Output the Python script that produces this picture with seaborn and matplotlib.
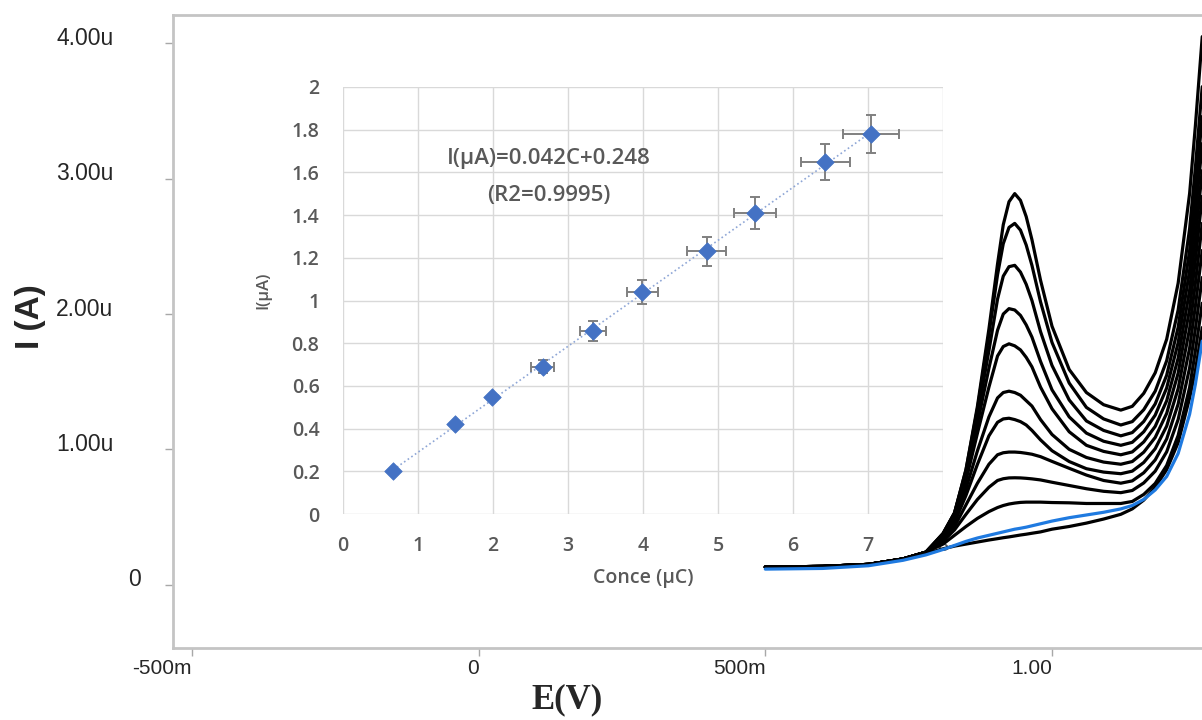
import numpy as np
import pandas as pd
import matplotlib
matplotlib.use("Agg")
import matplotlib.pyplot as plt
import seaborn as sns

sns.set_theme(style="white")
plt.rcParams["font.family"] = ["Liberation Sans", "DejaVu Sans"]

# ---------------- voltammograms: potential (V) and current (uA) ----------------
E_V = [0.50, 0.60, 0.68, 0.74, 0.78, 0.81, 0.83, 0.85, 0.87, 0.89, 0.905, 0.915, 0.925,
       0.935, 0.945, 0.955, 0.965, 0.98, 1.00, 1.03, 1.06, 1.09, 1.12, 1.14, 1.16, 1.18,
       1.20, 1.22, 1.24, 1.25, 1.262]

blank_black = [0.13, 0.13, 0.15, 0.19, 0.23, 0.265, 0.285, 0.30, 0.315, 0.33, 0.34, 0.347, 0.353,
               0.36, 0.367, 0.373, 0.38, 0.39, 0.41, 0.43, 0.455, 0.485, 0.52, 0.56, 0.625, 0.72,
               0.85, 1.05, 1.38, 1.58, 1.90]
blank_blue = [0.115, 0.12, 0.14, 0.18, 0.22, 0.26, 0.29, 0.32, 0.345, 0.365, 0.38, 0.39, 0.40,
              0.41, 0.417, 0.425, 0.435, 0.45, 0.47, 0.495, 0.515, 0.535, 0.56, 0.585, 0.63, 0.70,
              0.80, 0.97, 1.26, 1.48, 1.80]
c01 = [0.13, 0.135, 0.15, 0.19, 0.24, 0.30, 0.365, 0.43, 0.49, 0.54, 0.57, 0.585, 0.596,
       0.603, 0.608, 0.61, 0.61, 0.61, 0.607, 0.605, 0.60, 0.60, 0.60, 0.615, 0.667, 0.748,
       0.881, 1.103, 1.458, 1.725, 2.08]
c02 = [0.13, 0.135, 0.15, 0.19, 0.24, 0.32, 0.405, 0.52, 0.63, 0.72, 0.77, 0.783, 0.789,
       0.79, 0.789, 0.786, 0.782, 0.774, 0.757, 0.733, 0.709, 0.69, 0.68, 0.696, 0.752, 0.839,
       0.982, 1.221, 1.602, 1.888, 2.27]
c03 = [0.13, 0.135, 0.15, 0.19, 0.24, 0.33, 0.43, 0.59, 0.75, 0.89, 0.96, 0.975, 0.98,
       0.98, 0.977, 0.971, 0.964, 0.946, 0.911, 0.86, 0.81, 0.77, 0.75, 0.767, 0.827, 0.922,
       1.077, 1.335, 1.748, 2.057, 2.47]
c04 = [0.13, 0.135, 0.15, 0.19, 0.24, 0.35, 0.46, 0.66, 0.89, 1.10, 1.20, 1.225, 1.23,
       1.22, 1.205, 1.18, 1.14, 1.07, 0.99, 0.91, 0.857, 0.832, 0.82, 0.839, 0.903, 1.005,
       1.172, 1.449, 1.893, 2.226, 2.67]
c05 = [0.13, 0.135, 0.15, 0.19, 0.24, 0.35, 0.48, 0.71, 0.99, 1.24, 1.38, 1.42, 1.43,
       1.42, 1.40, 1.36, 1.32, 1.22, 1.11, 1.00, 0.94, 0.906, 0.89, 0.91, 0.979, 1.088,
       1.266, 1.563, 2.038, 2.395, 2.87]
c06 = [0.13, 0.135, 0.15, 0.19, 0.24, 0.36, 0.50, 0.77, 1.12, 1.46, 1.69, 1.76, 1.78,
       1.765, 1.735, 1.68, 1.61, 1.46, 1.30, 1.13, 1.03, 0.985, 0.96, 0.981, 1.055, 1.17,
       1.359, 1.674, 2.178, 2.556, 3.06]
c07 = [0.13, 0.135, 0.15, 0.19, 0.24, 0.37, 0.52, 0.80, 1.19, 1.60, 1.88, 2.00, 2.04,
       2.03, 1.99, 1.92, 1.83, 1.65, 1.44, 1.24, 1.12, 1.06, 1.03, 1.052, 1.13, 1.253,
       1.454, 1.788, 2.323, 2.725, 3.26]
c08 = [0.13, 0.135, 0.15, 0.19, 0.24, 0.375, 0.53, 0.83, 1.25, 1.73, 2.11, 2.28, 2.35,
       2.36, 2.31, 2.22, 2.10, 1.87, 1.62, 1.365, 1.21, 1.14, 1.10, 1.124, 1.206, 1.336,
       1.548, 1.902, 2.469, 2.894, 3.46]
c09 = [0.13, 0.135, 0.15, 0.19, 0.24, 0.38, 0.53, 0.85, 1.30, 1.85, 2.29, 2.52, 2.64,
       2.67, 2.62, 2.51, 2.36, 2.09, 1.79, 1.49, 1.31, 1.225, 1.18, 1.205, 1.293, 1.43,
       1.655, 2.03, 2.63, 3.08, 3.68]
c10 = [0.13, 0.135, 0.15, 0.19, 0.24, 0.375, 0.53, 0.85, 1.32, 1.89, 2.37, 2.66, 2.83,
       2.89, 2.84, 2.72, 2.55, 2.25, 1.91, 1.59, 1.42, 1.33, 1.29, 1.318, 1.414, 1.566,
       1.814, 2.228, 2.891, 3.388, 4.05]

# ---------------- calibration inset ----------------
conc_uC = [0.67, 1.49, 1.99, 2.66, 3.33, 3.99, 4.85, 5.49, 6.43, 7.04]
peak_uA = [0.20, 0.42, 0.55, 0.69, 0.855, 1.04, 1.23, 1.41, 1.65, 1.78]
conc_err = [0.0, 0.0, 0.0, 0.15, 0.17, 0.21, 0.26, 0.28, 0.33, 0.37]
peak_err = [0.0, 0.0, 0.0, 0.03, 0.047, 0.055, 0.069, 0.075, 0.084, 0.09]

main_xticks = [-0.5, 0.0, 0.5, 1.0]
main_xlabels = ["-500m", "0", "500m", "1.00"]
main_yticks = [0, 1, 2, 3, 4]
main_ylabels = ["0", "1.00u", "2.00u", "3.00u", "4.00u"]
inset_xticks = [0, 1, 2, 3, 4, 5, 6, 7, 8]
inset_yticks = [0, 0.2, 0.4, 0.6, 0.8, 1.0, 1.2, 1.4, 1.6, 1.8, 2.0]

W, H = 1202, 720
fig = plt.figure(figsize=(W / 100, H / 100), dpi=100)
fig.patch.set_facecolor("white")

ax = fig.add_axes([173 / W, 1 - 648 / H, 1 - 173 / W, (648 - 15) / H])
ax_in = fig.add_axes([343 / W, 1 - 514 / H, 600 / W, 427 / H])
ax.set_zorder(2)
ax.patch.set_visible(False)
ax_in.set_zorder(1)

# ---- voltammogram traces ----
black_sets = {"blank": blank_black, "c01": c01, "c02": c02, "c03": c03, "c04": c04,
              "c05": c05, "c06": c06, "c07": c07, "c08": c08, "c09": c09, "c10": c10}
frames = [pd.DataFrame({"E": E_V, "I": v, "trace": k}) for k, v in black_sets.items()]
frames.append(pd.DataFrame({"E": E_V, "I": blank_blue, "trace": "blue"}))
cv = pd.concat(frames, ignore_index=True)
palette = {k: "black" for k in black_sets}
palette["blue"] = "#1f7ae0"
sns.lineplot(data=cv, x="E", y="I", hue="trace", palette=palette, ax=ax,
             linewidth=2.3, legend=False, estimator=None, sort=True)
for line in ax.get_lines():
    line.set_solid_joinstyle("round")
    line.set_solid_capstyle("round")

ax.set_xlim(-0.533, 1.2616)
ax.set_ylim(-0.468, 4.21)
ax.set_xticks(main_xticks, main_xlabels, fontsize=15, color="#262626", ha="right")
ax.set_yticks(main_yticks, [""] * len(main_yticks))
ax.tick_params(axis="both", which="major", bottom=True, left=True, direction="out",
               length=6, width=1, color="#a8a8a8", pad=2)
for lbl, val in zip(main_ylabels, main_yticks):
    if lbl == "0":
        ax.annotate(lbl, xy=(0, val), xycoords=("axes fraction", "data"),
                    xytext=(-28, 3.5), textcoords="offset points",
                    ha="center", va="center", fontsize=16.5, color="#262626")
    else:
        ax.annotate(lbl, xy=(0, val), xycoords=("axes fraction", "data"),
                    xytext=(-43, 3.5), textcoords="offset points",
                    ha="right", va="center", fontsize=16.5, color="#262626")
for side in ("top", "left", "bottom"):
    ax.spines[side].set_color("#c4c4c4")
    ax.spines[side].set_linewidth(2)
ax.spines["right"].set_visible(False)

ax.set_xlabel("E(V)", fontsize=25, fontweight="bold", family=["Liberation Serif"],
              va="center")
ax.xaxis.set_label_coords((567 - 173) / 1029, -(700 - 648) / 633)
ax.set_ylabel("I (A)", fontsize=24, fontweight="bold", va="center")
ax.yaxis.set_label_coords(-(173 - 30) / 1029, (648 - 317) / 633)

# ---- calibration inset ----
inset_font = ["Open Sans", "DejaVu Sans"]
ax_in.set_facecolor("white")
ax_in.set_xlim(0, 8)
ax_in.set_ylim(0, 2)
ax_in.set_xticks(inset_xticks, [f"{v:g}" for v in inset_xticks], family=inset_font,
                 fontsize=14, color="#595959", fontweight="semibold")
ax_in.set_yticks(inset_yticks, [f"{v:g}" for v in inset_yticks], family=inset_font,
                 fontsize=14, color="#595959", fontweight="semibold")
ax_in.tick_params(axis="both", length=0)
ax_in.tick_params(axis="y", pad=17)
ax_in.tick_params(axis="x", pad=16)
ax_in.grid(True, color="#d9d9d9", linewidth=1)
for side in ax_in.spines:
    ax_in.spines[side].set_visible(False)

sns.regplot(x=conc_uC, y=peak_uA, ax=ax_in, scatter=False, ci=None, truncate=True,
            line_kws=dict(color="#8ea6d6", linewidth=1.2, linestyle=":"))
ax_in.errorbar(conc_uC, peak_uA, xerr=conc_err, yerr=peak_err, fmt="none",
               ecolor="#808080", elinewidth=1.4, capsize=3.5, capthick=1.4, zorder=3)
sns.scatterplot(x=conc_uC, y=peak_uA, ax=ax_in, marker="D", s=80, color="#4472c4",
                edgecolor="#4472c4", linewidth=0.5, zorder=4)

ax_in.text(2.75, 1.665, "I(\u03bcA)=0.042C+0.248", ha="center", va="center",
           family=inset_font, fontsize=16, fontweight="semibold", color="#595959")
ax_in.text(2.75, 1.49, "(R2=0.9995)", ha="center", va="center",
           family=inset_font, fontsize=16, fontweight="semibold", color="#595959")
ax_in.set_xlabel("Conce (\u03bcC)", family=inset_font, fontsize=14, color="#595959",
                 fontweight="semibold", va="center")
ax_in.xaxis.set_label_coords(0.5, -(578 - 514) / 427)
ax_in.set_ylabel("I(\u03bcA)", family=inset_font, fontsize=12, color="#595959",
                 fontweight="semibold", va="center")
ax_in.yaxis.set_label_coords(-(343 - 263) / 600, (514 - 290) / 427)

fig.savefig("out.png", dpi=100, facecolor="white")
